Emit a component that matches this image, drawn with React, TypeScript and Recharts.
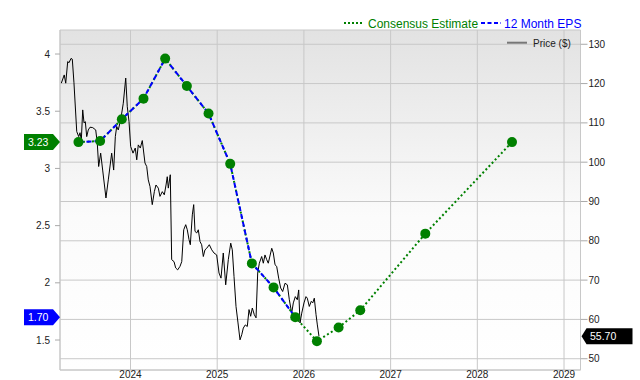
import React from 'react';
import { ComposedChart, Line, XAxis, YAxis, CartesianGrid, ReferenceDot, Legend } from 'recharts';

const yearTicks = [2024, 2025, 2026, 2027, 2028, 2029];
const epsTicks = [1.5, 2, 2.5, 3, 3.5, 4];
const priceTicks = [50, 60, 70, 80, 90, 100, 110, 120, 130];

const quarterDates = [2023.40, 2023.65, 2023.90, 2024.15, 2024.40, 2024.65, 2024.90, 2025.15, 2025.40, 2025.65, 2025.90, 2026.15, 2026.40, 2026.65, 2027.40, 2028.40];
const epsValues = [3.23, 3.24, 3.43, 3.61, 3.96, 3.72, 3.48, 3.04, 2.17, 1.96, 1.70, 1.49, 1.61, 1.76, 2.43, 3.23];
const actualCount = 11;

const priceDates = [2023.202, 2023.236, 2023.253, 2023.276, 2023.291, 2023.314, 2023.329, 2023.348, 2023.380, 2023.403, 2023.418, 2023.433, 2023.449, 2023.464, 2023.479, 2023.495, 2023.513, 2023.533, 2023.564, 2023.599, 2023.617, 2023.633, 2023.656, 2023.679, 2023.717, 2023.744, 2023.783, 2023.806, 2023.825, 2023.841, 2023.859, 2023.887, 2023.917, 2023.945, 2023.963, 2023.983, 2024.002, 2024.029, 2024.055, 2024.072, 2024.090, 2024.113, 2024.136, 2024.167, 2024.187, 2024.205, 2024.225, 2024.251, 2024.275, 2024.294, 2024.321, 2024.340, 2024.367, 2024.390, 2024.410, 2024.424, 2024.436, 2024.459, 2024.475, 2024.502, 2024.521, 2024.544, 2024.571, 2024.591, 2024.614, 2024.637, 2024.655, 2024.675, 2024.690, 2024.713, 2024.729, 2024.744, 2024.764, 2024.782, 2024.802, 2024.821, 2024.840, 2024.859, 2024.879, 2024.909, 2024.937, 2024.963, 2024.994, 2025.021, 2025.044, 2025.070, 2025.098, 2025.128, 2025.156, 2025.174, 2025.194, 2025.217, 2025.240, 2025.263, 2025.283, 2025.301, 2025.324, 2025.347, 2025.367, 2025.386, 2025.405, 2025.428, 2025.448, 2025.467, 2025.486, 2025.513, 2025.532, 2025.551, 2025.571, 2025.589, 2025.629, 2025.647, 2025.667, 2025.686, 2025.709, 2025.732, 2025.755, 2025.782, 2025.809, 2025.832, 2025.859, 2025.878, 2025.901, 2025.924, 2025.940, 2025.955, 2025.975, 2026.001, 2026.024, 2026.039, 2026.062, 2026.085, 2026.102, 2026.120, 2026.140, 2026.155, 2026.174];
const priceValues = [120.1, 122.2, 120.1, 125.6, 125.3, 126.4, 126.2, 120.2, 107.8, 106.5, 107.5, 105.7, 113.3, 110.0, 110.3, 106.5, 108.2, 108.9, 108.8, 108.2, 104.8, 98.9, 102.3, 98.0, 90.9, 95.5, 102.3, 98.0, 106.5, 109.1, 108.2, 110.8, 115.0, 121.4, 114.1, 110.3, 104.0, 102.3, 103.6, 100.6, 104.4, 103.6, 105.5, 99.8, 98.9, 95.5, 93.8, 89.2, 92.5, 94.2, 93.4, 91.3, 92.5, 91.7, 94.2, 96.3, 93.4, 96.8, 75.2, 74.7, 73.1, 72.6, 73.5, 74.7, 82.8, 84.1, 82.8, 80.3, 79.0, 86.6, 89.2, 82.4, 82.0, 82.8, 79.8, 79.0, 76.0, 77.7, 78.1, 79.0, 77.7, 76.9, 76.4, 71.8, 70.5, 76.9, 68.8, 75.2, 79.4, 77.7, 70.9, 63.3, 59.1, 54.8, 56.1, 57.8, 58.6, 58.2, 62.5, 60.8, 62.9, 61.2, 60.4, 71.8, 74.3, 76.0, 74.3, 76.4, 75.2, 74.3, 78.1, 76.9, 73.9, 73.5, 70.5, 68.0, 67.1, 69.2, 68.8, 65.0, 61.6, 64.2, 65.8, 65.0, 67.5, 59.1, 61.6, 64.2, 65.8, 65.4, 63.3, 64.6, 64.2, 65.4, 61.2, 58.6, 55.7];

const xDomain: [number, number] = [2023.187, 2029.19];
const epsDomain: [number, number] = [1.238, 4.21];
const priceDomain: [number, number] = [47.13, 133.63];

const FONT = '"Liberation Sans", Arial, Helvetica, sans-serif';
const GREEN = '#008000';
const BLUE = '#0000ff';

const priceData = priceDates.map((t, i) => ({ t, v: priceValues[i] }));
const epsAll = quarterDates.map((t, i) => ({ t, v: epsValues[i] }));
const epsActual = epsAll.slice(0, actualCount);

const lastEstimate = epsValues[epsValues.length - 1];
const lastActual = epsValues[actualCount - 1];
const lastPrice = priceValues[priceValues.length - 1];

const LeftTag = (props: any) => {
  const { cx, cy, color, label } = props;
  return (
    <g>
      <polygon
        points={`${cx},${cy} ${cx - 7},${cy - 8} ${cx - 36},${cy - 8} ${cx - 36},${cy + 8} ${cx - 7},${cy + 8}`}
        fill={color}
      />
      <text x={cx - 32} y={cy + 4} fill="#fff" fontSize={10.5} fontFamily={FONT}>{label}</text>
    </g>
  );
};

const RightTag = (props: any) => {
  const { cx, cy, color, label } = props;
  return (
    <g>
      <polygon
        points={`${cx + 1},${cy} ${cx + 6},${cy - 8} ${cx + 52},${cy - 8} ${cx + 52},${cy + 8} ${cx + 6},${cy + 8}`}
        fill={color}
      />
      <text x={cx + 9.5} y={cy + 4} fill="#fff" fontSize={10.5} fontFamily={FONT}>{label}</text>
    </g>
  );
};

const LegendBox = () => (
  <svg width={640} height={60} style={{ display: 'block' }}>
    <line x1={344} x2={364} y1={23} y2={23} stroke={GREEN} strokeWidth={2} strokeDasharray="2 2" />
    <text x={368} y={27.5} fontSize={12} fill={GREEN} fontFamily={FONT}>Consensus Estimate</text>
    <line x1={481} x2={501} y1={23} y2={23} stroke={BLUE} strokeWidth={2} strokeDasharray="4 2.5" />
    <text x={504} y={27.5} fontSize={12} fill={BLUE} fontFamily={FONT}>12 Month EPS</text>
    <line x1={507} x2={527} y1={42.7} y2={42.7} stroke="#777" strokeWidth={2} />
    <text x={533} y={46.5} fontSize={10} fill="#222" fontFamily={FONT}>Price ($)</text>
  </svg>
);

export default function App() {
  const tickStyle = { fontSize: 10, fill: '#222', fontFamily: FONT };
  return (
    <div style={{ width: 640, height: 380 }}>
      <style>{'body{margin:0}'}</style>
      <ComposedChart width={640} height={380} margin={{ top: 30, right: 0, bottom: 0, left: 0 }}>
        <defs>
          <linearGradient id="bgGrad" x1="0" y1="0" x2="0" y2="1">
            <stop offset="0%" stopColor="#e2e2e2" />
            <stop offset="55%" stopColor="#fbfbfb" />
            <stop offset="100%" stopColor="#ffffff" />
          </linearGradient>
        </defs>
        <CartesianGrid xAxisId="b" yAxisId="right" stroke="#c8c8c8" fill="url(#bgGrad)" fillOpacity={1} />
        <XAxis
          xAxisId="b"
          dataKey="t"
          type="number"
          domain={xDomain}
          ticks={yearTicks}
          allowDataOverflow
          height={10}
          tickSize={0}
          tickMargin={1}
          tickLine={false}
          axisLine={{ stroke: '#c8c8c8' }}
          tick={tickStyle}
          tickFormatter={(v: number) => String(Math.round(v))}
        />
        <XAxis
          xAxisId="t"
          orientation="top"
          dataKey="t"
          type="number"
          domain={xDomain}
          allowDataOverflow
          height={0}
          tick={false}
          tickLine={false}
          axisLine={{ stroke: '#c8c8c8' }}
        />
        <YAxis
          yAxisId="left"
          orientation="left"
          type="number"
          domain={epsDomain}
          ticks={epsTicks}
          allowDataOverflow
          width={60}
          tickSize={5}
          tickMargin={5}
          tickLine={{ stroke: '#aaa' }}
          axisLine={{ stroke: '#c8c8c8' }}
          tick={tickStyle}
          tickFormatter={(v: number) => String(v)}
        />
        <YAxis
          yAxisId="right"
          orientation="right"
          type="number"
          domain={priceDomain}
          ticks={priceTicks}
          allowDataOverflow
          width={59.5}
          tickSize={7}
          tickMargin={1}
          tickLine={{ stroke: '#aaa' }}
          axisLine={{ stroke: '#c8c8c8' }}
          tick={tickStyle}
        />
        <Line
          xAxisId="b"
          yAxisId="right"
          data={priceData}
          dataKey="v"
          type="linear"
          stroke="#000"
          strokeWidth={1}
          dot={false}
          activeDot={false}
          isAnimationActive={false}
        />
        <Line
          xAxisId="b"
          yAxisId="left"
          data={epsAll}
          dataKey="v"
          type="linear"
          stroke={GREEN}
          strokeWidth={2}
          strokeDasharray="2 2.5"
          dot={false}
          activeDot={false}
          isAnimationActive={false}
        />
        <Line
          xAxisId="b"
          yAxisId="left"
          data={epsActual}
          dataKey="v"
          type="linear"
          stroke={BLUE}
          strokeWidth={2}
          strokeDasharray="5 3"
          dot={false}
          activeDot={false}
          isAnimationActive={false}
        />
        <Line
          xAxisId="b"
          yAxisId="left"
          data={epsAll}
          dataKey="v"
          type="linear"
          stroke="none"
          dot={{ r: 5, fill: GREEN, stroke: GREEN, strokeWidth: 0 }}
          activeDot={false}
          isAnimationActive={false}
        />
        <ReferenceDot
          xAxisId="b"
          yAxisId="left"
          x={xDomain[0]}
          y={lastEstimate}
          ifOverflow="visible"
          shape={(p: any) => <LeftTag cx={p.cx} cy={p.cy} color={GREEN} label={lastEstimate.toFixed(2)} />}
        />
        <ReferenceDot
          xAxisId="b"
          yAxisId="left"
          x={xDomain[0]}
          y={lastActual}
          ifOverflow="visible"
          shape={(p: any) => <LeftTag cx={p.cx} cy={p.cy} color={BLUE} label={lastActual.toFixed(2)} />}
        />
        <ReferenceDot
          xAxisId="b"
          yAxisId="right"
          x={xDomain[1]}
          y={lastPrice}
          ifOverflow="visible"
          shape={(p: any) => <RightTag cx={p.cx} cy={p.cy} color="#000" label={lastPrice.toFixed(2)} />}
        />
        <Legend
          layout="horizontal"
          verticalAlign="middle"
          align="center"
          wrapperStyle={{ top: 0, left: 0, width: 640, height: 60, pointerEvents: 'none' }}
          content={() => <LegendBox />}
        />
      </ComposedChart>
    </div>
  );
}
